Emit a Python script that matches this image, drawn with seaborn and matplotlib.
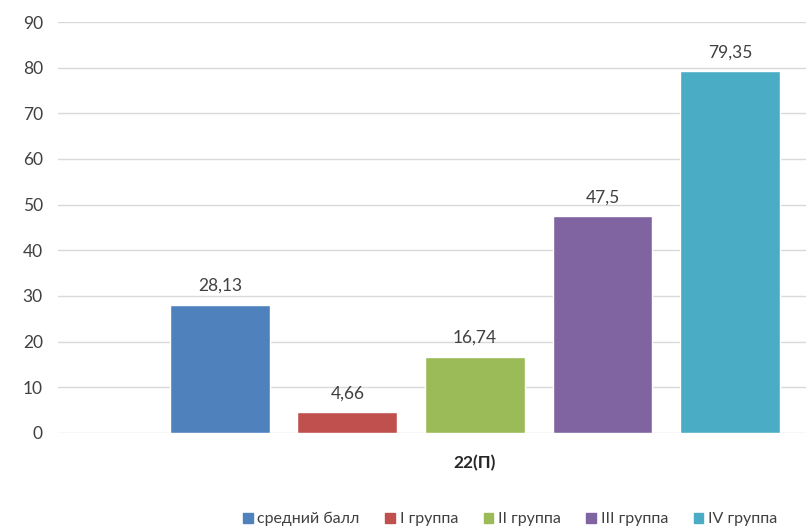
import matplotlib
matplotlib.use("Agg")
import matplotlib.pyplot as plt
import pandas as pd
import seaborn as sns

# данные графика
groups = ["средний балл", "I группа", "II группа", "III группа", "IV группа"]
values = [28.13, 4.66, 16.74, 47.5, 79.35]
value_labels = ["28,13", "4,66", "16,74", "47,5", "79,35"]
category = "22(П)"
colors = ["#4F81BD", "#C0504D", "#9BBB59", "#8064A2", "#4BACC6"]

df = pd.DataFrame({"group": groups, "value": values})

sns.set_theme(style="white")
plt.rcParams['font.family'] = ['Lato', 'DejaVu Sans']
text_color = "#404040"

fig = plt.figure(figsize=(8.06, 5.29), dpi=100)
ax = fig.add_axes([0.072, 0.1815, 0.928, 0.7769])

sns.barplot(data=df, x="group", y="value", hue="group", palette=colors,
            width=0.784, dodge=False, legend=False, ax=ax, saturation=1)

for i, (v, lab) in enumerate(zip(values, value_labels)):
    ax.text(i, v + 2.3, lab, ha="center", va="bottom", fontsize=12.5, color=text_color)

ax.set_ylim(0, 90)
ax.set_yticks(range(0, 91, 10))
ax.set_xlim(-1.27, 4.596)
ax.yaxis.grid(True, color="#D9D9D9", linewidth=1)
ax.set_axisbelow(True)
for s in ax.spines.values():
    s.set_visible(False)
ax.tick_params(axis="y", length=0, pad=11, labelsize=12.5, labelcolor=text_color)
ax.set_xticks([])
ax.set_xlabel("")
ax.set_ylabel("")

ax.text(2, -6.7, category, ha="center", va="center", fontsize=12.5,
        fontweight="bold", color="#262626", transform=ax.transData)

handles = [plt.Rectangle((0, 0), 1, 1, color=c) for c in colors]
fig.legend(handles, groups, loc="lower center", bbox_to_anchor=(0.633, -0.022),
           ncol=5, frameon=False, fontsize=11.5, handlelength=0.6, handleheight=0.6,
           handletextpad=0.3, columnspacing=1.6, labelcolor=text_color)

fig.savefig("out.png", dpi=100)
